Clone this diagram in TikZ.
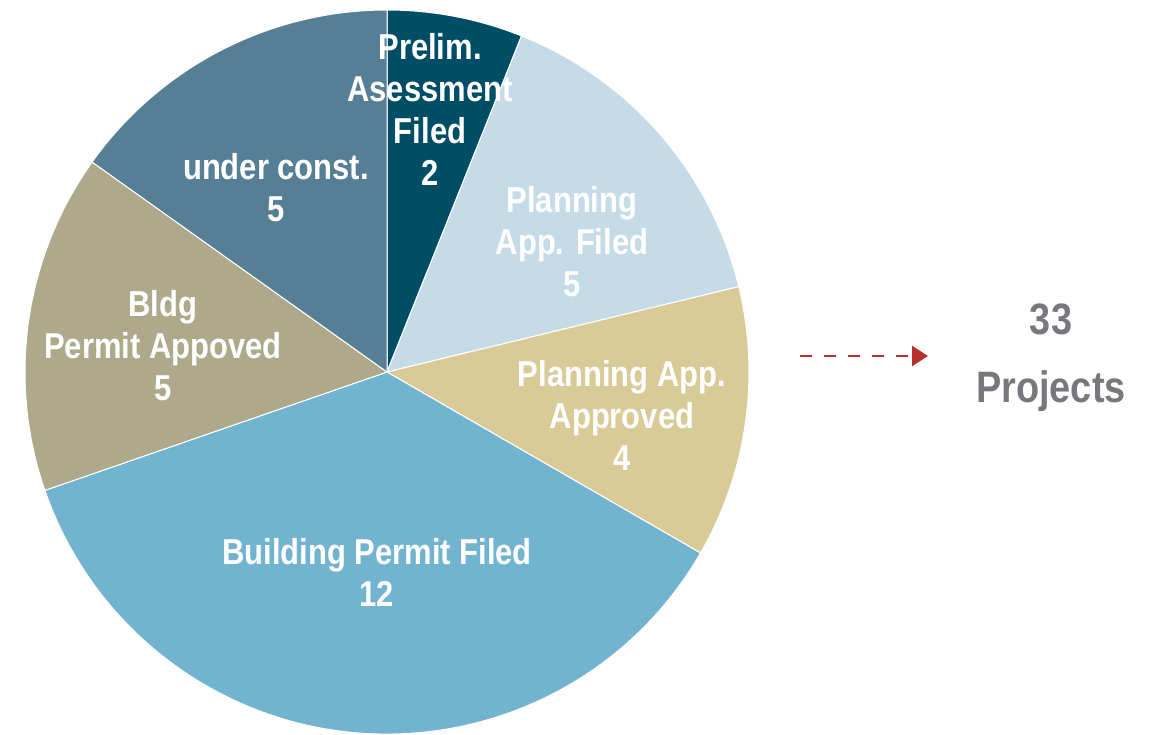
\documentclass[tikz,border=0pt]{standalone}
\usepackage{fontspec}
\setmainfont{Liberation Sans}[FakeStretch=0.86]
\usetikzlibrary{arrows.meta}

\definecolor{prelimcol}{HTML}{004E66}
\definecolor{appfiledcol}{HTML}{C5DBE7}
\definecolor{appapprcol}{HTML}{D9CB98}
\definecolor{bpfiledcol}{HTML}{72B3D0}
\definecolor{bpapprcol}{HTML}{ADA98A}
\definecolor{constcol}{HTML}{567F96}
\definecolor{arrowcol}{HTML}{B5302A}
\definecolor{totalcol}{HTML}{77787B}

\tikzset{
  slice/.style={draw=white,line width=0.5pt},
  lbl/.style={text=white,align=center,inner sep=0pt,
    font=\fontsize{18}{21}\selectfont\bfseries},
  totallbl/.style={text=totalcol,align=center,inner sep=0pt,
    font=\fontsize{22}{34}\selectfont\bfseries}
}

\begin{document}
\begin{tikzpicture}[x=0.5pt,y=0.5pt]
  \useasboundingbox (-387,-362) rectangle (769,372);

  % Slices (33 projects, clockwise from the top)
  \foreach \a/\b/\c in {90/68.18/prelimcol, 68.18/13.64/appfiledcol,
      13.64/-30/appapprcol, -30/-160.91/bpfiledcol,
      -160.91/-215.45/bpapprcol, -215.45/-270/constcol}
    \filldraw[slice,fill=\c] (0,0) -- (\a:362)
      arc[start angle=\a,end angle=\b,radius=362] -- cycle;

  % Slice labels
  \node[lbl] (prelim) at (43,263) {Prelim.\\Asessment\\Filed\\2};
  \node[lbl] (appfiled) at (185,130) {Planning\\App. Filed\\5};
  \node[lbl] (appapproved) at (235,-43) {Planning App.\\Approved\\4};
  \node[lbl] (bpfiled) at (-10,-200) {Building Permit Filed\\12};
  \node[lbl] (bpapproved) at (-224,26) {Bldg\\Permit Appoved\\5};
  \node[lbl] (underconst) at (-111,184) {under const.\\5};

  % Total
  \node[totallbl] (total) at (664,14) {33\\Projects};
  \coordinate (arrowstart) at (413,16);
  \coordinate (arrowend) at (541,16);
  \draw[arrowcol,line width=1.2pt,dash pattern=on 6pt off 6pt,
    -{Triangle[length=8pt,width=10pt]}] (arrowstart) -- (arrowend);
\end{tikzpicture}
\end{document}
